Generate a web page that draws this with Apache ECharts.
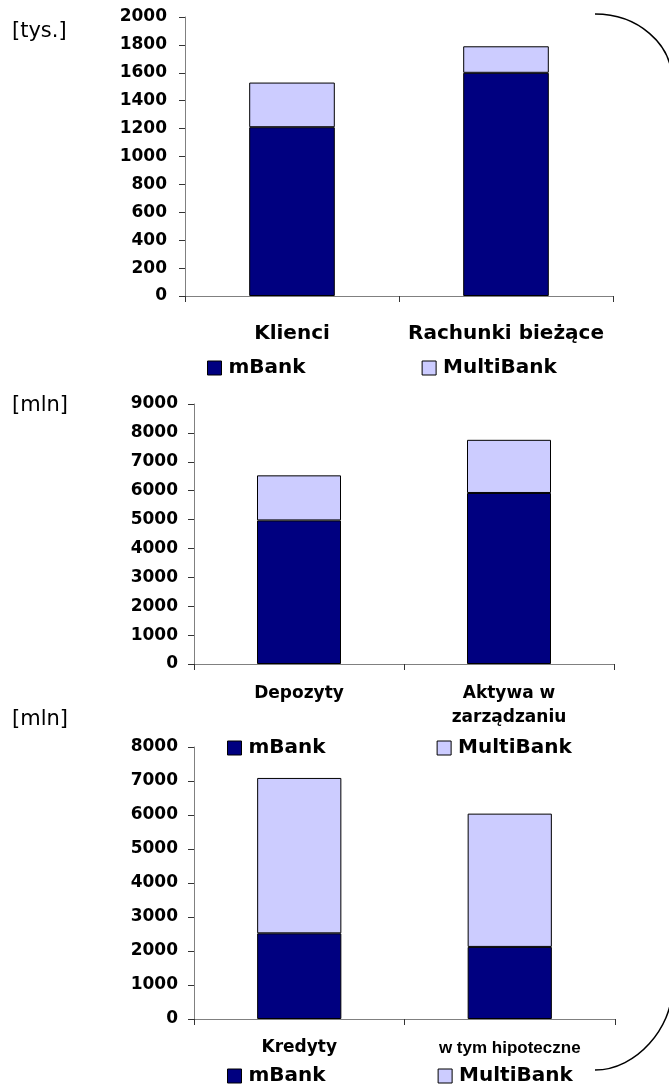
<!DOCTYPE html>
<html>
<head>
<meta charset="utf-8">
<script src="https://cdn.jsdelivr.net/npm/echarts@6/dist/echarts.min.js"></script>
<style>
  html, body { margin: 0; padding: 0; background: #fff; }
  #chart { width: 669px; height: 1084px; }
</style>
</head>
<body>
<div id="chart"></div>
<script>
// Customers and current accounts [thousands]
const custCats = ['Klienci', 'Rachunki bieżące'];
const custMBank = [1210, 1600];
const custMulti = [320, 190];
const custTicks = { min: 0, max: 2000, interval: 200 };

// Deposits and assets under management [PLN m]
const depCats = ['Depozyty', 'Aktywa w\nzarządzaniu'];
const depMBank = [4970, 5920];
const depMulti = [1560, 1840];
const depTicks = { min: 0, max: 9000, interval: 1000 };

// Loans, of which mortgages [PLN m]
const loanCats = ['Kredyty', 'w tym hipoteczne'];
const loanMBank = [2520, 2120];
const loanMulti = [4570, 3920];
const loanTicks = { min: 0, max: 8000, interval: 1000 };

const seriesNames = ['mBank', 'MultiBank'];
const unitLabels = ['[tys.]', '[mln]', '[mln]'];

const FONT = 'DejaVu Sans';
const NAVY = '#000080';
const LILAC = '#CCCCFF';

const chart = echarts.init(document.getElementById('chart'), null, { renderer: 'canvas' });

const grids = [
  { left: 185, top: 17, width: 428, height: 279 },
  { left: 194, top: 404, width: 420, height: 260 },
  { left: 194, top: 747, width: 421, height: 272 }
];

function xAxis(gi, cats, fontSize, margin, lineHeight, rich) {
  const label = {
    interval: 0, margin: margin, color: '#000',
    fontFamily: FONT, fontWeight: 'bold', fontSize: fontSize,
    lineHeight: lineHeight, verticalAlign: 'top'
  };
  if (rich) {
    label.rich = rich;
    label.formatter = (v, i) => (i === 1 ? '{n|' + v + '}' : v);
  }
  return {
    type: 'category', gridIndex: gi, data: cats, boundaryGap: true,
    axisLine: { lineStyle: { color: '#808080', width: 1 } },
    axisTick: { show: true, length: 6, lineStyle: { color: '#333' } },
    axisLabel: label,
    splitLine: { show: false }
  };
}

function yAxis(gi, t, margin) {
  return {
    type: 'value', gridIndex: gi, min: t.min, max: t.max, interval: t.interval,
    axisLine: { show: true, lineStyle: { color: '#808080', width: 1 } },
    axisTick: { show: true, length: 6, lineStyle: { color: '#333' } },
    axisLabel: {
      margin: margin, color: '#000', fontFamily: FONT, fontWeight: 'bold', fontSize: 17,
      formatter: (v) => String(v)
    },
    splitLine: { show: false }
  };
}

function barPair(gi, mb, mu) {
  const common = {
    type: 'bar', xAxisIndex: gi, yAxisIndex: gi, stack: 'tot' + gi,
    barWidth: '40%', animation: false,
    emphasis: { disabled: true }
  };
  return [
    Object.assign({}, common, { name: seriesNames[0], data: mb,
      itemStyle: { color: NAVY, borderColor: '#000', borderWidth: 1 } }),
    Object.assign({}, common, { name: seriesNames[1], data: mu,
      itemStyle: { color: LILAC, borderColor: '#000', borderWidth: 1 } })
  ];
}

function legendRow(left, top, gap) {
  return {
    data: seriesNames, left: left, top: top, orient: 'horizontal',
    itemGap: gap, itemWidth: 14, itemHeight: 14, padding: 0, icon: 'rect',
    selectedMode: false,
    itemStyle: { borderColor: '#000', borderWidth: 1 },
    textStyle: { fontFamily: FONT, fontWeight: 'bold', fontSize: 20, color: '#000', lineHeight: 14, padding: [0, 0, 0, 2] }
  };
}

function unitText(txt, x, y) {
  return {
    type: 'text', left: x, top: y, silent: true,
    style: { text: txt, fontFamily: FONT, fontSize: 21, fill: '#000' }
  };
}

chart.setOption({
  animation: false,
  backgroundColor: '#fff',
  grid: grids,
  xAxis: [
    xAxis(0, custCats, 20, 26, 24),
    xAxis(1, depCats, 17, 18, 24),
    xAxis(2, loanCats, 17, 18, 22, {
      n: { fontFamily: 'Liberation Sans', fontWeight: 'bold', fontSize: 17, color: '#000', lineHeight: 22 }
    })
  ],
  yAxis: [
    yAxis(0, custTicks, 18),
    yAxis(1, depTicks, 16),
    yAxis(2, loanTicks, 16)
  ],
  legend: [
    legendRow(207, 358, 116),
    legendRow(227, 738, 111),
    legendRow(227, 1066, 112)
  ],
  series: [].concat(
    barPair(0, custMBank, custMulti),
    barPair(1, depMBank, depMulti),
    barPair(2, loanMBank, loanMulti)
  ),
  graphic: [
    unitText(unitLabels[0], 12, 21),
    unitText(unitLabels[1], 12, 395),
    unitText(unitLabels[2], 12, 709),
    // right-hand bracket: upper and lower arcs
    {
      type: 'bezierCurve', silent: true,
      shape: { x1: 595, y1: 14, cpx1: 637.5, cpy1: 14, cpx2: 672, cpy2: 43.5, x2: 672, y2: 80 },
      style: { stroke: '#000', lineWidth: 1.5, fill: null }
    },
    {
      type: 'bezierCurve', silent: true,
      shape: { x1: 595, y1: 1070, cpx1: 637.5, cpy1: 1070, cpx2: 672, cpy2: 1026, x2: 672, y2: 990 },
      style: { stroke: '#000', lineWidth: 1.5, fill: null }
    }
  ]
});
</script>
</body>
</html>
